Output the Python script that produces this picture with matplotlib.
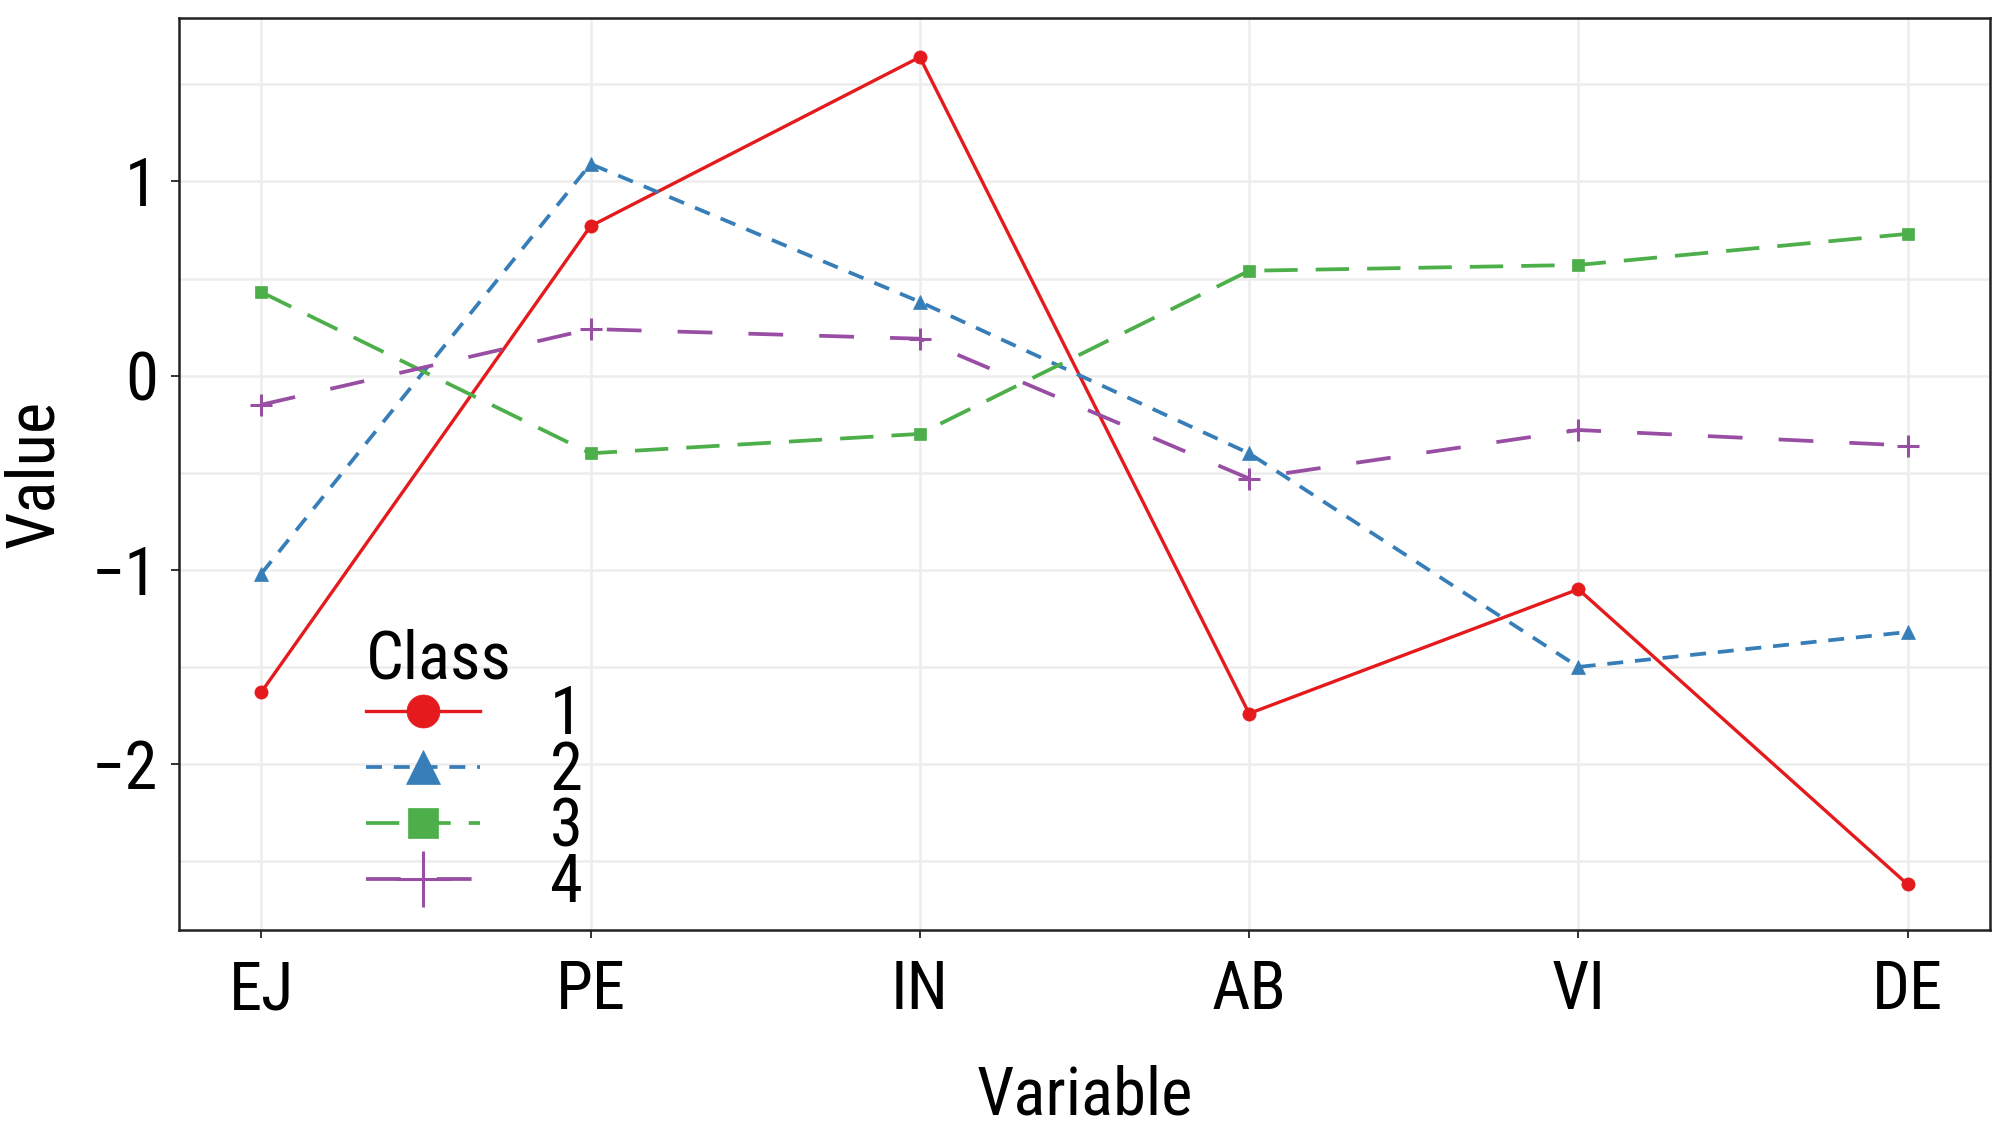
import matplotlib
matplotlib.use("Agg")
import matplotlib.pyplot as plt
from matplotlib import font_manager
import numpy as np

# data
variables = ["EJ", "PE", "IN", "AB", "VI", "DE"]
class_names = ["1", "2", "3", "4"]
class1 = [-1.63, 0.77, 1.64, -1.74, -1.10, -2.62]
class2 = [-1.02, 1.09, 0.38, -0.40, -1.50, -1.32]
class3 = [0.43, -0.40, -0.30, 0.54, 0.57, 0.73]
class4 = [-0.15, 0.24, 0.19, -0.53, -0.28, -0.36]
y_ticks = [-2, -1, 0, 1]
y_minor = [-2.5, -1.5, -0.5, 0.5, 1.5]

installed = {f.name for f in font_manager.fontManager.ttflist}
family = "Liberation Sans"
for cand in ["Liberation Sans Narrow", "Roboto Condensed", "Open Sans Condensed"]:
    if cand in installed:
        family = cand
        break
plt.rcParams["font.family"] = [family, "DejaVu Sans"]
plt.rcParams["lines.scale_dashes"] = False
FS = 48

colors = ["#E41A1C", "#377EB8", "#4DAF4A", "#984EA3"]
markers = ["o", "^", "s", "+"]
msizes = [9.5, 10, 8.5, 16]
dashes = [None, (11.5, 8.5), (24, 13), (25, 26)]

fig = plt.figure(figsize=(20.04, 11.44), dpi=100)
ax = fig.add_axes([0.0893, 0.187, 0.9037, 0.797])

x = np.arange(len(variables))
for vals, name, c, m, ms, d in zip([class1, class2, class3, class4], class_names,
                                    colors, markers, msizes, dashes):
    line, = ax.plot(x, vals, color=c, marker=m, markersize=ms,
                    lw=2.4 if d is None else 2.7,
                    markeredgewidth=2.2 if m == "+" else 0.5, label=name)
    if d is not None:
        line.set_dashes(d)

ax.set_xlim(-0.25, 5.25)
ax.set_ylim(-2.855, 1.84)
ax.set_xticks(x)
ax.set_xticklabels(variables)
ax.set_yticks(y_ticks)
ax.set_yticks(y_minor, minor=True)
ax.tick_params(axis="y", which="minor", length=0)
ax.grid(True, which="both", color="#EDEDED", lw=1.8, zorder=0)
ax.set_axisbelow(True)

ax.tick_params(which="major", labelsize=FS, length=6, width=1.4, color="#333333")
ax.tick_params(axis="x", pad=15)
ax.tick_params(axis="y", pad=9)
for s in ax.spines.values():
    s.set_linewidth(1.8)
    s.set_color("#222222")

ax.set_xlabel("Variable", fontsize=FS)
ax.set_ylabel("Value", fontsize=FS)
ax.xaxis.set_label_coords(0.5, -0.147)
ax.yaxis.set_label_coords(-0.062, 0.5)

leg = ax.legend(title="Class", loc="upper left", bbox_to_anchor=(0.085, 0.367),
                frameon=False, fontsize=FS, title_fontsize=FS, markerscale=2.5,
                borderpad=0, labelspacing=-0.12, handlelength=1.7,
                handletextpad=1.05, alignment="left")
leg._legend_box.sep = -6

fig.savefig("out.png", dpi=100)
